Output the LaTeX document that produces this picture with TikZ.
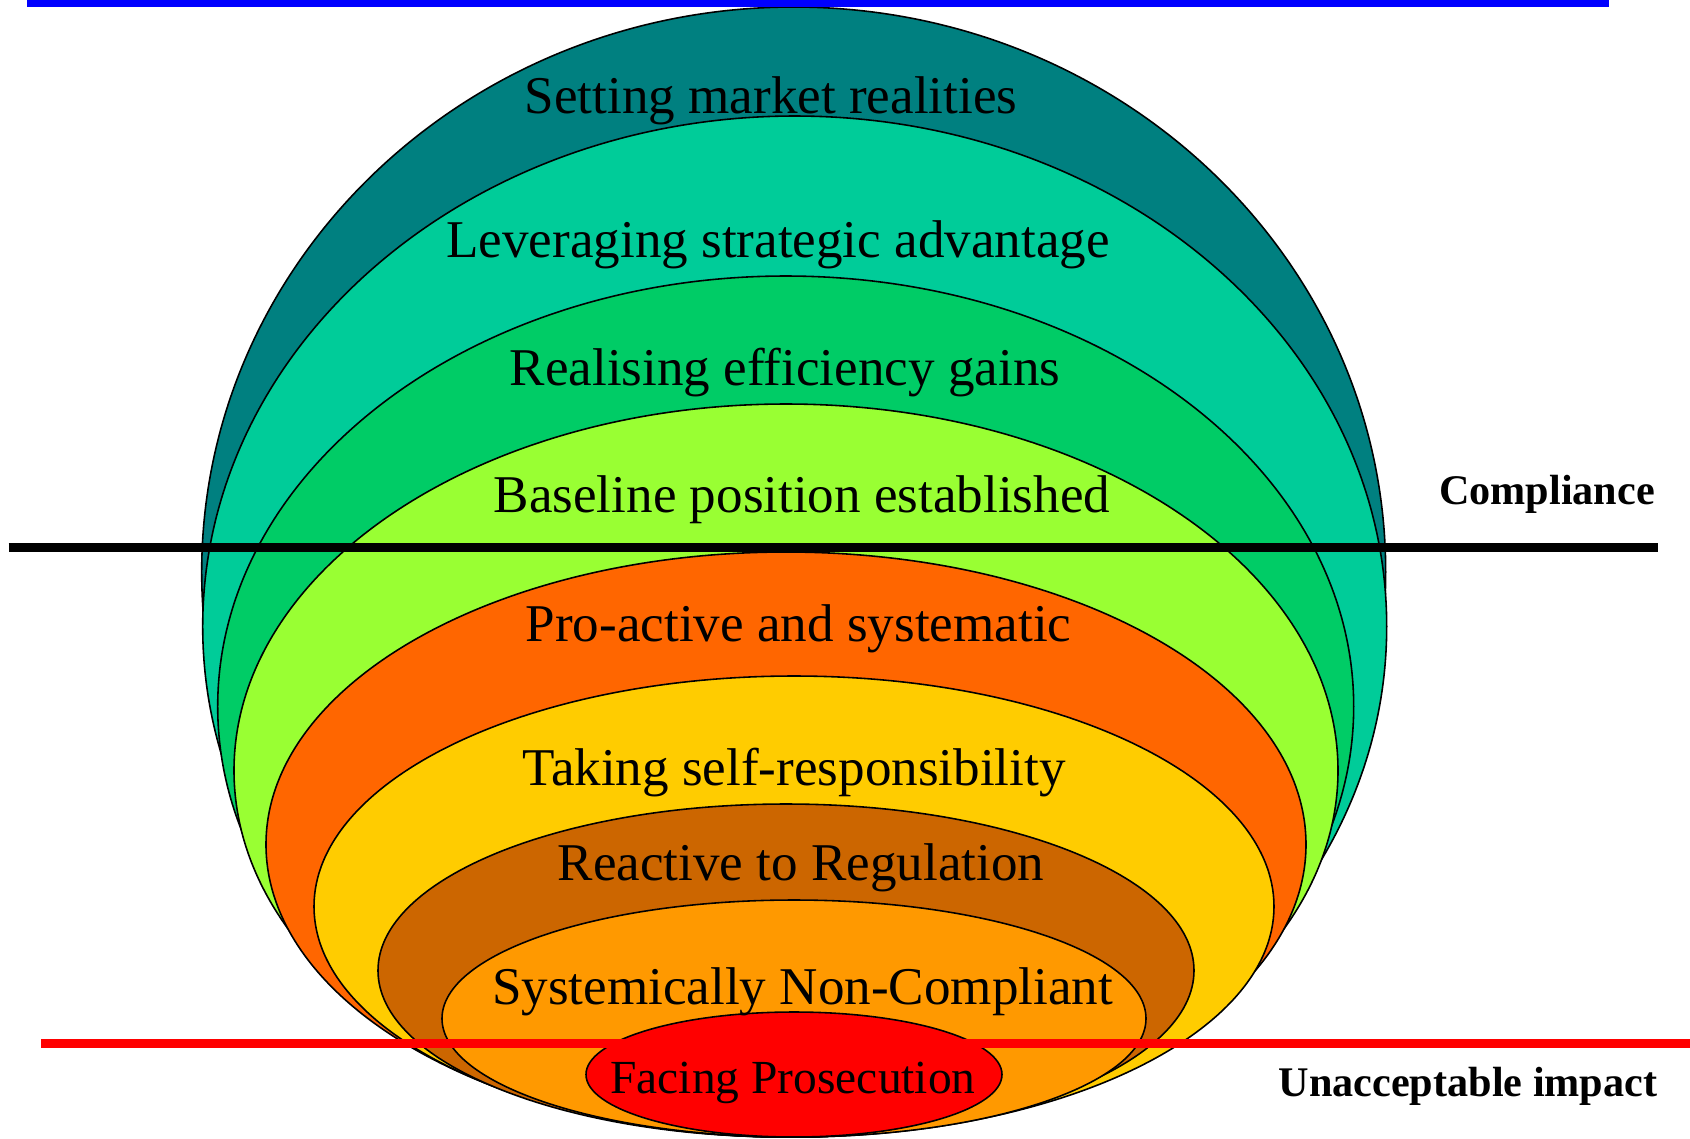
\documentclass[tikz,border=0pt]{standalone}
\usepackage{fontspec}
\setmainfont{Liberation Serif}
\usepackage{tikz}

\definecolor{levelteal}{HTML}{008080}
\definecolor{levelaqua}{HTML}{00CC99}
\definecolor{levelgreen}{HTML}{00CC66}
\definecolor{levellime}{HTML}{99FF33}
\definecolor{levelorange}{HTML}{FF6600}
\definecolor{levelgold}{HTML}{FFCC00}
\definecolor{levelbrown}{HTML}{CC6600}
\definecolor{levelamber}{HTML}{FF9900}
\definecolor{levelred}{HTML}{FF0000}

\begin{document}
\begin{tikzpicture}[x=0.01cm, y=-0.01cm,
    zone/.style={draw=black, line width=0.45pt},
    level/.style={anchor=base, font=\fontsize{15.1}{18}\selectfont},
    marker/.style={anchor=base, font=\fontsize{12}{14}\selectfont\bfseries}]
    \useasboundingbox (0,0) rectangle (1690,1138);
    % nested zones, outermost first
    \filldraw[zone, fill=levelteal]   (793.7,572)   ellipse [x radius=592, y radius=565];
    \filldraw[zone, fill=levelaqua]   (794.7,626.5) ellipse [x radius=592, y radius=510.5];
    \filldraw[zone, fill=levelgreen]  (785.7,706.5) ellipse [x radius=568, y radius=430.5];
    \filldraw[zone, fill=levellime]   (786,770.5)   ellipse [x radius=552, y radius=366.5];
    \filldraw[zone, fill=levelorange] (786,844.5)   ellipse [x radius=520, y radius=292.5];
    \filldraw[zone, fill=levelgold]   (794,906.5)   ellipse [x radius=480, y radius=230.5];
    \filldraw[zone, fill=levelbrown]  (786,970.5)   ellipse [x radius=408, y radius=166.5];
    \filldraw[zone, fill=levelamber]  (794,1018.5)  ellipse [x radius=352, y radius=118.5];
    \filldraw[zone, fill=levelred]    (794,1074.5)  ellipse [x radius=208, y radius=62.5];
    % threshold lines
    \draw[blue, line width=2.13pt]  (27,3.5)     -- (1609,3.5);
    \draw[black, line width=2.42pt] (8.6,547.5)  -- (1658,547.5);
    \draw[red, line width=2.56pt]   (41,1043.5)  -- (1690,1043.5);
    % zone labels
    \node[level] (setting)    at (771,113)  {Setting market realities};
    \node[level] (leveraging) at (778,257)  {Leveraging strategic advantage};
    \node[level] (realising)  at (785,385)  {Realising efficiency gains};
    \node[level] (baseline)   at (802,512)  {Baseline position established};
    \node[level] (proactive)  at (798.5,641) {Pro-active and systematic};
    \node[level] (taking)     at (794,785)  {Taking self-responsibility};
    \node[level] (reactive)   at (801,880)  {Reactive to Regulation};
    \node[level] (systemic)   at (802.5,1004) {Systemically Non-Compliant};
    \node[level, font=\fontsize{13.5}{16}\selectfont] (facing) at (793,1093) {Facing Prosecution};
    % threshold labels
    \node[marker] (compliance)   at (1547,504)  {Compliance};
    \node[marker] (unacceptable) at (1468,1096) {Unacceptable impact};
\end{tikzpicture}
\end{document}
